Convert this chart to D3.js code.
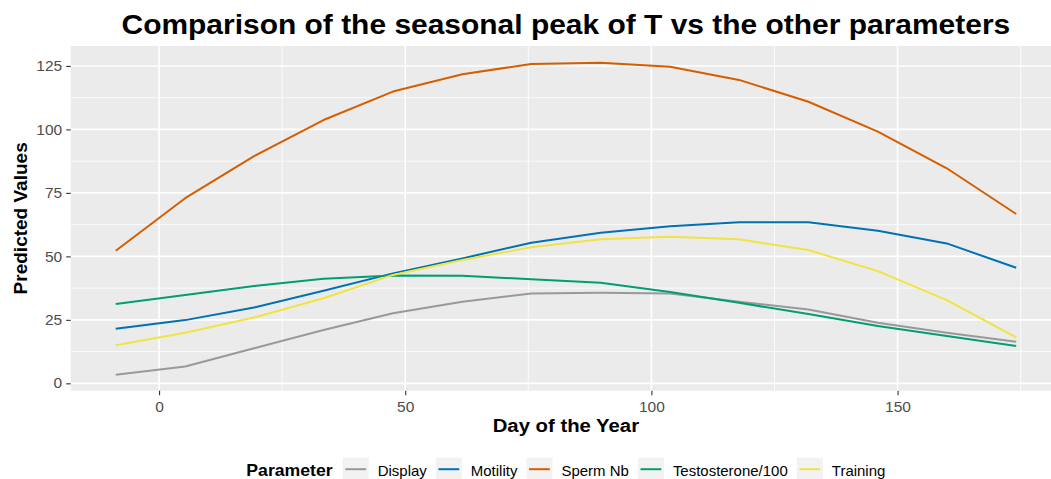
<!DOCTYPE html>
<html>
<head>
<meta charset="utf-8">
<script src="https://cdn.jsdelivr.net/npm/d3@7"></script>
<style>
  html, body { margin: 0; padding: 0; background: #ffffff; }
  svg { display: block; font-family: "Liberation Sans", Arial, sans-serif; }
</style>
</head>
<body>
<svg id="chart" width="1051" height="479"></svg>
<script>
// Day of the year at which each model prediction was evaluated
const days = [-8.8, 5.3, 19.3, 33.4, 47.5, 61.6, 75.6, 89.7, 103.8, 117.8, 131.9, 146.0, 160.0, 174.1];

// Predicted values per parameter
const display      = [3.4, 6.6, 13.8, 21.0, 27.6, 32.1, 35.4, 35.7, 35.4, 32.1, 29.1, 23.9, 19.9, 16.4];
const motility     = [21.5, 24.9, 29.9, 36.5, 43.3, 49.2, 55.4, 59.3, 61.9, 63.4, 63.4, 60.1, 55.1, 45.5];
const spermNb      = [52.2, 72.9, 89.5, 103.7, 114.9, 121.7, 125.8, 126.3, 124.7, 119.5, 110.9, 99.1, 84.7, 66.7];
const testosterone = [31.2, 34.8, 38.3, 41.2, 42.5, 42.4, 41.0, 39.6, 36.0, 31.7, 27.3, 22.6, 18.6, 14.7];
const training     = [15.0, 19.9, 25.9, 33.5, 42.7, 48.6, 53.6, 56.7, 57.7, 56.7, 52.5, 44.2, 32.8, 18.1];

const seriesNames  = ["Display", "Motility", "Sperm Nb", "Testosterone/100", "Training"];
const seriesValues = [display, motility, spermNb, testosterone, training];
const seriesColors = ["#999999", "#0072B2", "#D55E00", "#009E73", "#F0E442"];

const xTicks = [0, 50, 100, 150];
const xMinor = [25, 75, 125, 175];
const yTicks = [0, 25, 50, 75, 100, 125];
const yMinor = [12.5, 37.5, 62.5, 87.5, 112.5];

const chartTitle = "Comparison of the seasonal peak of T vs the other parameters";
const xTitle = "Day of the Year";
const yTitle = "Predicted Values";
const legendTitle = "Parameter";

// ---- layout ----
const svg = d3.select("#chart");
const panel = { left: 70.7, top: 46, right: 1061, bottom: 390.7 };
const centerX = (panel.left + panel.right) / 2;
const SX = 1.07; // horizontal text stretch

const x = d3.scaleLinear().domain([-17.95, 183.2]).range([panel.left, panel.right]);
const y = d3.scaleLinear().domain([-2.9, 132.85]).range([panel.bottom, panel.top]);

// panel background
svg.append("rect")
  .attr("x", panel.left).attr("y", panel.top)
  .attr("width", panel.right - panel.left).attr("height", panel.bottom - panel.top)
  .attr("fill", "#EBEBEB");

const grid = svg.append("g");
// minor grid
grid.selectAll(".ymin").data(yMinor).join("line")
  .attr("x1", panel.left).attr("x2", panel.right)
  .attr("y1", d => y(d)).attr("y2", d => y(d))
  .attr("stroke", "#ffffff").attr("stroke-width", 0.8);
grid.selectAll(".xmin").data(xMinor).join("line")
  .attr("y1", panel.top).attr("y2", panel.bottom)
  .attr("x1", d => x(d)).attr("x2", d => x(d))
  .attr("stroke", "#ffffff").attr("stroke-width", 0.8);
// major grid
grid.selectAll(".ymaj").data(yTicks).join("line")
  .attr("x1", panel.left).attr("x2", panel.right)
  .attr("y1", d => y(d)).attr("y2", d => y(d))
  .attr("stroke", "#ffffff").attr("stroke-width", 1.6);
grid.selectAll(".xmaj").data(xTicks).join("line")
  .attr("y1", panel.top).attr("y2", panel.bottom)
  .attr("x1", d => x(d)).attr("x2", d => x(d))
  .attr("stroke", "#ffffff").attr("stroke-width", 1.6);

// ---- lines ----
const line = d3.line().x(d => x(d[0])).y(d => y(d[1]));
const lines = svg.append("g");
seriesNames.forEach((name, i) => {
  const pts = days.map((d, j) => [d, seriesValues[i][j]]);
  lines.append("path")
    .datum(pts)
    .attr("d", line)
    .attr("fill", "none")
    .attr("stroke", seriesColors[i])
    .attr("stroke-width", 2)
    .attr("stroke-linejoin", "round")
    .attr("stroke-linecap", "butt");
});

// ---- axes ----
const xAxis = svg.append("g")
  .attr("transform", `translate(0,${panel.bottom})`)
  .call(d3.axisBottom(x).tickValues(xTicks).tickSize(4.5).tickPadding(6.5).tickFormat(d3.format("d")));
const yAxis = svg.append("g")
  .attr("transform", `translate(${panel.left},0)`)
  .call(d3.axisLeft(y).tickValues(yTicks).tickSize(4.5).tickPadding(3.5).tickFormat(d3.format("d")));

[xAxis, yAxis].forEach(ax => {
  ax.select(".domain").remove();
  ax.selectAll(".tick line").attr("stroke", "#333333").attr("stroke-width", 1.1);
  ax.selectAll(".tick text")
    .attr("fill", "#4D4D4D")
    .style("font-size", "14.5px")
    .style("font-family", "'Liberation Sans', Arial, sans-serif")
    .attr("transform", `scale(${SX},1)`);
});

// ---- titles ----
svg.append("text")
  .attr("transform", `translate(${centerX},33.5) scale(${SX},1)`)
  .attr("text-anchor", "middle")
  .style("font-size", "28px").style("font-weight", "bold")
  .attr("fill", "#000000")
  .text(chartTitle);

svg.append("text")
  .attr("transform", `translate(${centerX},431.5) scale(${SX},1)`)
  .attr("text-anchor", "middle")
  .style("font-size", "19px").style("font-weight", "bold")
  .attr("fill", "#000000")
  .text(xTitle);

svg.append("text")
  .attr("transform", `translate(26.5,${(panel.top + panel.bottom) / 2}) rotate(-90)`)
  .attr("text-anchor", "middle")
  .style("font-size", "19px").style("font-weight", "bold")
  .attr("fill", "#000000")
  .text(yTitle);

// ---- legend ----
const legend = svg.append("g");
const keyW = 26, keyH = 23, keyY = 457.7, lineY = 469.2, textY = 475.8;
const legTitle = legend.append("text")
  .attr("fill", "#000000")
  .style("font-size", "16.5px").style("font-weight", "bold")
  .text(legendTitle);
const titleW = legTitle.node().getComputedTextLength() * SX;

const labelNodes = seriesNames.map(n => legend.append("text")
  .attr("fill", "#000000")
  .style("font-size", "14px")
  .text(n));
const labelW = labelNodes.map(t => t.node().getComputedTextLength() * SX);

const gapTitle = 10, gapKeyText = 9, gapItem = 9;
const totalW = titleW + gapTitle + d3.sum(labelW, w => keyW + gapKeyText + w) + gapItem * (seriesNames.length - 1);
let cx = centerX - totalW / 2;

legTitle.attr("transform", `translate(${cx},${textY}) scale(${SX},1)`);
cx += titleW + gapTitle;
seriesNames.forEach((n, i) => {
  legend.append("rect")
    .attr("x", cx).attr("y", keyY).attr("width", keyW).attr("height", keyH)
    .attr("fill", "#F2F2F2");
  legend.append("line")
    .attr("x1", cx + keyW * 0.1).attr("x2", cx + keyW * 0.9)
    .attr("y1", lineY).attr("y2", lineY)
    .attr("stroke", seriesColors[i]).attr("stroke-width", 2);
  cx += keyW + gapKeyText;
  labelNodes[i].attr("transform", `translate(${cx},${textY}) scale(${SX},1)`);
  labelNodes[i].raise();
  cx += labelW[i] + gapItem;
});
</script>
</body>
</html>
